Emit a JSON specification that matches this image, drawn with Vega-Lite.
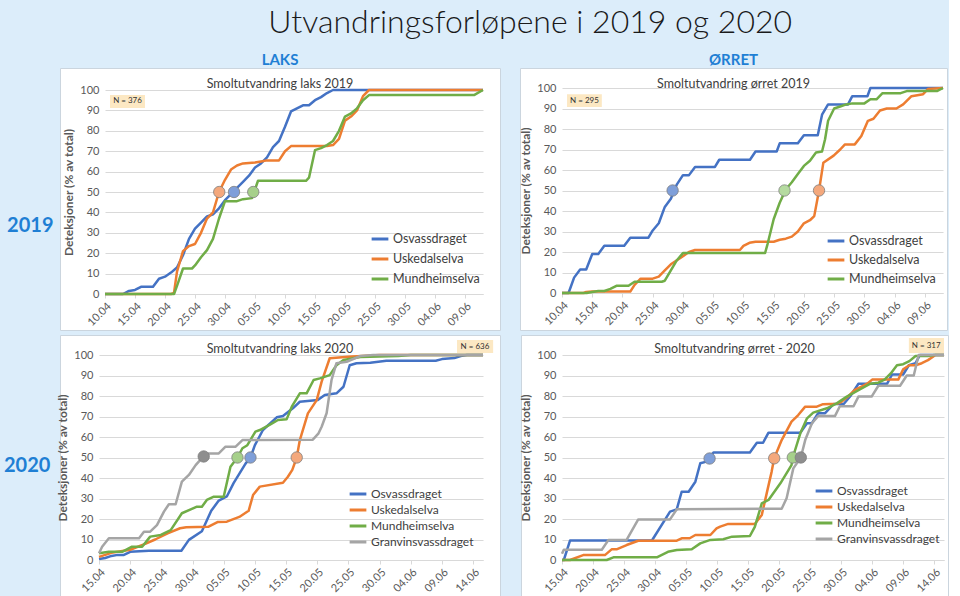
{
"$schema": "https://vega.github.io/schema/vega-lite/v6.json",
"background": "#dcedfa",
"padding": {"left": 3, "top": 7, "right": 0, "bottom": 0},
"config": {
 "font": "Lato",
 "view": {"stroke": null},
 "axis": {"labelColor": "#595959", "labelFontSize": 11, "titleColor": "#595959", "labelFont": "Lato", "titleFont": "Lato", "tickCount": 30},
 "axisX": {"grid": false, "domainColor": "#d9d9d9", "tickColor": "#d9d9d9", "tickSize": 4, "labelAngle": -45, "labelOverlap": false, "labelFlush": false, "labelPadding": 2},
 "axisY": {"grid": true, "gridColor": "#d9d9d9", "domain": false, "ticks": false, "labelPadding": 6, "titleFontSize": 12, "titleFontWeight": "bold", "titlePadding": 4, "labelFlush": false, "labelOverlap": false},
 "legend": {"orient": "none", "symbolType": "stroke", "symbolStrokeWidth": 3, "symbolSize": 280, "labelFontSize": 12.5, "labelColor": "#404040", "labelOffset": 3, "padding": 0, "labelFont": "Lato"}
},
"datasets": {
 "l19": [
  {"river":"Osvassdraget","date":"2019-04-10","pct":0},{"river":"Osvassdraget","date":"2019-04-13","pct":0},{"river":"Osvassdraget","date":"2019-04-14","pct":1.5},{"river":"Osvassdraget","date":"2019-04-15","pct":2},{"river":"Osvassdraget","date":"2019-04-16","pct":3.5},{"river":"Osvassdraget","date":"2019-04-18","pct":3.5},{"river":"Osvassdraget","date":"2019-04-19","pct":7.5},{"river":"Osvassdraget","date":"2019-04-20","pct":8.5},{"river":"Osvassdraget","date":"2019-04-21","pct":10.5},{"river":"Osvassdraget","date":"2019-04-22","pct":13},{"river":"Osvassdraget","date":"2019-04-23","pct":19},{"river":"Osvassdraget","date":"2019-04-24","pct":27},{"river":"Osvassdraget","date":"2019-04-25","pct":32},{"river":"Osvassdraget","date":"2019-04-26","pct":35},{"river":"Osvassdraget","date":"2019-04-27","pct":38},{"river":"Osvassdraget","date":"2019-04-28","pct":39},{"river":"Osvassdraget","date":"2019-04-29","pct":42},{"river":"Osvassdraget","date":"2019-04-30","pct":46},{"river":"Osvassdraget","date":"2019-05-01","pct":49},{"river":"Osvassdraget","date":"2019-05-02","pct":52},{"river":"Osvassdraget","date":"2019-05-03","pct":55},{"river":"Osvassdraget","date":"2019-05-04","pct":58},{"river":"Osvassdraget","date":"2019-05-05","pct":62},{"river":"Osvassdraget","date":"2019-05-06","pct":64},{"river":"Osvassdraget","date":"2019-05-07","pct":67},{"river":"Osvassdraget","date":"2019-05-08","pct":72},{"river":"Osvassdraget","date":"2019-05-09","pct":75},{"river":"Osvassdraget","date":"2019-05-10","pct":82},{"river":"Osvassdraget","date":"2019-05-11","pct":89.5},{"river":"Osvassdraget","date":"2019-05-12","pct":91},{"river":"Osvassdraget","date":"2019-05-13","pct":92.5},{"river":"Osvassdraget","date":"2019-05-14","pct":92.5},{"river":"Osvassdraget","date":"2019-05-15","pct":95},{"river":"Osvassdraget","date":"2019-05-16","pct":96.5},{"river":"Osvassdraget","date":"2019-05-17","pct":98.5},{"river":"Osvassdraget","date":"2019-05-18","pct":100},{"river":"Osvassdraget","date":"2019-06-12","pct":100},
  {"river":"Uskedalselva","date":"2019-04-10","pct":0},{"river":"Uskedalselva","date":"2019-04-21","pct":0},{"river":"Uskedalselva","date":"2019-04-21T12:00Z","pct":0.5},{"river":"Uskedalselva","date":"2019-04-22","pct":11},{"river":"Uskedalselva","date":"2019-04-23","pct":21},{"river":"Uskedalselva","date":"2019-04-24","pct":23.5},{"river":"Uskedalselva","date":"2019-04-25","pct":24.5},{"river":"Uskedalselva","date":"2019-04-26","pct":30},{"river":"Uskedalselva","date":"2019-04-27","pct":37},{"river":"Uskedalselva","date":"2019-04-28","pct":40},{"river":"Uskedalselva","date":"2019-04-29","pct":50},{"river":"Uskedalselva","date":"2019-04-30","pct":56},{"river":"Uskedalselva","date":"2019-05-01","pct":61},{"river":"Uskedalselva","date":"2019-05-02","pct":63},{"river":"Uskedalselva","date":"2019-05-03","pct":64},{"river":"Uskedalselva","date":"2019-05-05","pct":64.5},{"river":"Uskedalselva","date":"2019-05-06","pct":65},{"river":"Uskedalselva","date":"2019-05-07","pct":65.5},{"river":"Uskedalselva","date":"2019-05-09","pct":65.5},{"river":"Uskedalselva","date":"2019-05-10","pct":70},{"river":"Uskedalselva","date":"2019-05-11","pct":72.5},{"river":"Uskedalselva","date":"2019-05-17","pct":72.5},{"river":"Uskedalselva","date":"2019-05-18","pct":73},{"river":"Uskedalselva","date":"2019-05-19","pct":76},{"river":"Uskedalselva","date":"2019-05-20","pct":85},{"river":"Uskedalselva","date":"2019-05-21","pct":87},{"river":"Uskedalselva","date":"2019-05-22","pct":90},{"river":"Uskedalselva","date":"2019-05-23","pct":97},{"river":"Uskedalselva","date":"2019-05-24","pct":100},{"river":"Uskedalselva","date":"2019-06-12","pct":100},
  {"river":"Mundheimselva","date":"2019-04-10","pct":0},{"river":"Mundheimselva","date":"2019-04-21T12:00Z","pct":0},{"river":"Mundheimselva","date":"2019-04-22","pct":4},{"river":"Mundheimselva","date":"2019-04-23","pct":12.5},{"river":"Mundheimselva","date":"2019-04-24T12:00Z","pct":12.5},{"river":"Mundheimselva","date":"2019-04-25","pct":14},{"river":"Mundheimselva","date":"2019-04-26","pct":18},{"river":"Mundheimselva","date":"2019-04-27","pct":21.5},{"river":"Mundheimselva","date":"2019-04-28","pct":27},{"river":"Mundheimselva","date":"2019-04-29","pct":37},{"river":"Mundheimselva","date":"2019-04-30","pct":45.5},{"river":"Mundheimselva","date":"2019-05-02","pct":45.5},{"river":"Mundheimselva","date":"2019-05-03","pct":46.5},{"river":"Mundheimselva","date":"2019-05-04T12:00Z","pct":47},{"river":"Mundheimselva","date":"2019-05-05T12:00Z","pct":55.5},{"river":"Mundheimselva","date":"2019-05-13T12:00Z","pct":55.5},{"river":"Mundheimselva","date":"2019-05-14","pct":57},{"river":"Mundheimselva","date":"2019-05-15","pct":70.5},{"river":"Mundheimselva","date":"2019-05-16","pct":71.5},{"river":"Mundheimselva","date":"2019-05-17","pct":73},{"river":"Mundheimselva","date":"2019-05-18","pct":75},{"river":"Mundheimselva","date":"2019-05-19","pct":80},{"river":"Mundheimselva","date":"2019-05-20","pct":87},{"river":"Mundheimselva","date":"2019-05-21","pct":88.5},{"river":"Mundheimselva","date":"2019-05-22","pct":91},{"river":"Mundheimselva","date":"2019-05-23","pct":95},{"river":"Mundheimselva","date":"2019-05-24","pct":97.5},{"river":"Mundheimselva","date":"2019-06-10T12:00Z","pct":97.5},{"river":"Mundheimselva","date":"2019-06-12","pct":100}
 ],
 "o19": [
  {"river":"Osvassdraget","date":"2019-04-10","pct":0},{"river":"Osvassdraget","date":"2019-04-11T02:00Z","pct":0},{"river":"Osvassdraget","date":"2019-04-12","pct":7.5},{"river":"Osvassdraget","date":"2019-04-13","pct":11.5},{"river":"Osvassdraget","date":"2019-04-14","pct":11.5},{"river":"Osvassdraget","date":"2019-04-15","pct":19},{"river":"Osvassdraget","date":"2019-04-16","pct":19},{"river":"Osvassdraget","date":"2019-04-17","pct":23},{"river":"Osvassdraget","date":"2019-04-20T07:00Z","pct":23},{"river":"Osvassdraget","date":"2019-04-21T07:00Z","pct":27},{"river":"Osvassdraget","date":"2019-04-24T07:00Z","pct":27},{"river":"Osvassdraget","date":"2019-04-25","pct":30.5},{"river":"Osvassdraget","date":"2019-04-26","pct":34},{"river":"Osvassdraget","date":"2019-04-27","pct":42},{"river":"Osvassdraget","date":"2019-04-28","pct":46},{"river":"Osvassdraget","date":"2019-04-29","pct":53},{"river":"Osvassdraget","date":"2019-04-30","pct":57.5},{"river":"Osvassdraget","date":"2019-05-01","pct":57.5},{"river":"Osvassdraget","date":"2019-05-02","pct":61.5},{"river":"Osvassdraget","date":"2019-05-05T07:00Z","pct":61.5},{"river":"Osvassdraget","date":"2019-05-06","pct":65},{"river":"Osvassdraget","date":"2019-05-11T02:00Z","pct":65},{"river":"Osvassdraget","date":"2019-05-12","pct":69},{"river":"Osvassdraget","date":"2019-05-15T12:00Z","pct":69},{"river":"Osvassdraget","date":"2019-05-16","pct":73},{"river":"Osvassdraget","date":"2019-05-19","pct":73},{"river":"Osvassdraget","date":"2019-05-20","pct":77},{"river":"Osvassdraget","date":"2019-05-22T07:00Z","pct":77},{"river":"Osvassdraget","date":"2019-05-23","pct":87},{"river":"Osvassdraget","date":"2019-05-24","pct":92},{"river":"Osvassdraget","date":"2019-05-27T07:00Z","pct":92},{"river":"Osvassdraget","date":"2019-05-28","pct":96},{"river":"Osvassdraget","date":"2019-05-30T12:00Z","pct":96},{"river":"Osvassdraget","date":"2019-05-31","pct":100},{"river":"Osvassdraget","date":"2019-06-12","pct":100},
  {"river":"Uskedalselva","date":"2019-04-10","pct":0},{"river":"Uskedalselva","date":"2019-04-13T14:00Z","pct":0},{"river":"Uskedalselva","date":"2019-04-14","pct":0.5},{"river":"Uskedalselva","date":"2019-04-15","pct":0.7},{"river":"Uskedalselva","date":"2019-04-21T07:00Z","pct":0.7},{"river":"Uskedalselva","date":"2019-04-22","pct":4},{"river":"Uskedalselva","date":"2019-04-23","pct":7},{"river":"Uskedalselva","date":"2019-04-25","pct":7},{"river":"Uskedalselva","date":"2019-04-26","pct":8},{"river":"Uskedalselva","date":"2019-04-27","pct":11},{"river":"Uskedalselva","date":"2019-04-28","pct":14},{"river":"Uskedalselva","date":"2019-04-29","pct":16},{"river":"Uskedalselva","date":"2019-04-30","pct":18},{"river":"Uskedalselva","date":"2019-05-01","pct":20},{"river":"Uskedalselva","date":"2019-05-02","pct":21},{"river":"Uskedalselva","date":"2019-05-09T10:00Z","pct":21},{"river":"Uskedalselva","date":"2019-05-10","pct":23},{"river":"Uskedalselva","date":"2019-05-11","pct":24.5},{"river":"Uskedalselva","date":"2019-05-12","pct":25},{"river":"Uskedalselva","date":"2019-05-15","pct":25},{"river":"Uskedalselva","date":"2019-05-16","pct":26},{"river":"Uskedalselva","date":"2019-05-17","pct":26.5},{"river":"Uskedalselva","date":"2019-05-18","pct":27.5},{"river":"Uskedalselva","date":"2019-05-19","pct":30},{"river":"Uskedalselva","date":"2019-05-20","pct":34},{"river":"Uskedalselva","date":"2019-05-21","pct":35.5},{"river":"Uskedalselva","date":"2019-05-21T17:00Z","pct":37.5},{"river":"Uskedalselva","date":"2019-05-22T12:00Z","pct":50},{"river":"Uskedalselva","date":"2019-05-23T05:00Z","pct":63.5},{"river":"Uskedalselva","date":"2019-05-24T22:00Z","pct":67},{"river":"Uskedalselva","date":"2019-05-26","pct":70},{"river":"Uskedalselva","date":"2019-05-26T19:00Z","pct":72.5},{"river":"Uskedalselva","date":"2019-05-28T10:00Z","pct":72.5},{"river":"Uskedalselva","date":"2019-05-29T12:00Z","pct":76.6},{"river":"Uskedalselva","date":"2019-05-30T14:00Z","pct":84},{"river":"Uskedalselva","date":"2019-05-31T12:00Z","pct":85},{"river":"Uskedalselva","date":"2019-06-01T14:00Z","pct":89},{"river":"Uskedalselva","date":"2019-06-02T17:00Z","pct":90},{"river":"Uskedalselva","date":"2019-06-04T07:00Z","pct":90},{"river":"Uskedalselva","date":"2019-06-05T10:00Z","pct":92},{"river":"Uskedalselva","date":"2019-06-06T19:00Z","pct":96},{"river":"Uskedalselva","date":"2019-06-08T17:00Z","pct":97},{"river":"Uskedalselva","date":"2019-06-09T12:00Z","pct":99.5},{"river":"Uskedalselva","date":"2019-06-12","pct":100},
  {"river":"Mundheimselva","date":"2019-04-10","pct":0},{"river":"Mundheimselva","date":"2019-04-14T02:00Z","pct":0},{"river":"Mundheimselva","date":"2019-04-15","pct":0.5},{"river":"Mundheimselva","date":"2019-04-16","pct":1},{"river":"Mundheimselva","date":"2019-04-17","pct":1},{"river":"Mundheimselva","date":"2019-04-18","pct":2},{"river":"Mundheimselva","date":"2019-04-19","pct":3.5},{"river":"Mundheimselva","date":"2019-04-21","pct":3.5},{"river":"Mundheimselva","date":"2019-04-22","pct":5.5},{"river":"Mundheimselva","date":"2019-04-26T12:00Z","pct":5.5},{"river":"Mundheimselva","date":"2019-04-27","pct":6},{"river":"Mundheimselva","date":"2019-04-28","pct":11},{"river":"Mundheimselva","date":"2019-04-29","pct":16},{"river":"Mundheimselva","date":"2019-04-30","pct":19.5},{"river":"Mundheimselva","date":"2019-05-13T14:00Z","pct":19.5},{"river":"Mundheimselva","date":"2019-05-14","pct":24},{"river":"Mundheimselva","date":"2019-05-15","pct":36},{"river":"Mundheimselva","date":"2019-05-16","pct":44},{"river":"Mundheimselva","date":"2019-05-17","pct":50.5},{"river":"Mundheimselva","date":"2019-05-18","pct":54},{"river":"Mundheimselva","date":"2019-05-19","pct":58},{"river":"Mundheimselva","date":"2019-05-20","pct":62},{"river":"Mundheimselva","date":"2019-05-21","pct":64.5},{"river":"Mundheimselva","date":"2019-05-22","pct":68.5},{"river":"Mundheimselva","date":"2019-05-23","pct":69},{"river":"Mundheimselva","date":"2019-05-23T12:00Z","pct":75},{"river":"Mundheimselva","date":"2019-05-24","pct":84},{"river":"Mundheimselva","date":"2019-05-25","pct":90},{"river":"Mundheimselva","date":"2019-05-26","pct":91},{"river":"Mundheimselva","date":"2019-05-27","pct":92},{"river":"Mundheimselva","date":"2019-05-28","pct":92.5},{"river":"Mundheimselva","date":"2019-05-30","pct":92.5},{"river":"Mundheimselva","date":"2019-05-31","pct":94.5},{"river":"Mundheimselva","date":"2019-06-01","pct":94.5},{"river":"Mundheimselva","date":"2019-06-02","pct":97.5},{"river":"Mundheimselva","date":"2019-06-05","pct":97.5},{"river":"Mundheimselva","date":"2019-06-06","pct":98.5},{"river":"Mundheimselva","date":"2019-06-11","pct":98.5},{"river":"Mundheimselva","date":"2019-06-12","pct":100}
 ],
 "l20": [
  {"river":"Osvassdraget","date":"2020-04-15","pct":0.5},{"river":"Osvassdraget","date":"2020-04-16","pct":1},{"river":"Osvassdraget","date":"2020-04-17","pct":2},{"river":"Osvassdraget","date":"2020-04-18","pct":2.5},{"river":"Osvassdraget","date":"2020-04-19","pct":2.5},{"river":"Osvassdraget","date":"2020-04-20","pct":4},{"river":"Osvassdraget","date":"2020-04-23","pct":4.5},{"river":"Osvassdraget","date":"2020-04-28T05:00Z","pct":4.5},{"river":"Osvassdraget","date":"2020-04-29T10:00Z","pct":9.8},{"river":"Osvassdraget","date":"2020-05-01T12:00Z","pct":14},{"river":"Osvassdraget","date":"2020-05-03","pct":24},{"river":"Osvassdraget","date":"2020-05-04T05:00Z","pct":29},{"river":"Osvassdraget","date":"2020-05-05T12:00Z","pct":31},{"river":"Osvassdraget","date":"2020-05-06T14:00Z","pct":37.5},{"river":"Osvassdraget","date":"2020-05-08T12:00Z","pct":47},{"river":"Osvassdraget","date":"2020-05-09T07:00Z","pct":50},{"river":"Osvassdraget","date":"2020-05-10","pct":56},{"river":"Osvassdraget","date":"2020-05-11T07:00Z","pct":63.4},{"river":"Osvassdraget","date":"2020-05-13T12:00Z","pct":69.6},{"river":"Osvassdraget","date":"2020-05-14T12:00Z","pct":70.2},{"river":"Osvassdraget","date":"2020-05-16T02:00Z","pct":74},{"river":"Osvassdraget","date":"2020-05-17T05:00Z","pct":77.2},{"river":"Osvassdraget","date":"2020-05-20T02:00Z","pct":78},{"river":"Osvassdraget","date":"2020-05-21T05:00Z","pct":80.5},{"river":"Osvassdraget","date":"2020-05-23T02:00Z","pct":81.3},{"river":"Osvassdraget","date":"2020-05-24T05:00Z","pct":84.5},{"river":"Osvassdraget","date":"2020-05-25T05:00Z","pct":95},{"river":"Osvassdraget","date":"2020-05-26T07:00Z","pct":96},{"river":"Osvassdraget","date":"2020-05-28T12:00Z","pct":96.2},{"river":"Osvassdraget","date":"2020-05-31T02:00Z","pct":97.2},{"river":"Osvassdraget","date":"2020-06-08","pct":97.2},{"river":"Osvassdraget","date":"2020-06-09","pct":98},{"river":"Osvassdraget","date":"2020-06-11","pct":98.5},{"river":"Osvassdraget","date":"2020-06-12","pct":99.5},{"river":"Osvassdraget","date":"2020-06-13","pct":100},{"river":"Osvassdraget","date":"2020-06-15T14:00Z","pct":100},
  {"river":"Uskedalselva","date":"2020-04-15","pct":1.5},{"river":"Uskedalselva","date":"2020-04-17","pct":3.5},{"river":"Uskedalselva","date":"2020-04-20","pct":5},{"river":"Uskedalselva","date":"2020-04-22T12:00Z","pct":8},{"river":"Uskedalselva","date":"2020-04-24","pct":10},{"river":"Uskedalselva","date":"2020-04-26","pct":13},{"river":"Uskedalselva","date":"2020-04-28","pct":15.5},{"river":"Uskedalselva","date":"2020-04-29","pct":16},{"river":"Uskedalselva","date":"2020-05-02T12:00Z","pct":16.2},{"river":"Uskedalselva","date":"2020-05-04","pct":18.5},{"river":"Uskedalselva","date":"2020-05-05T12:00Z","pct":18.7},{"river":"Uskedalselva","date":"2020-05-07T12:00Z","pct":21},{"river":"Uskedalselva","date":"2020-05-09","pct":24},{"river":"Uskedalselva","date":"2020-05-09T17:00Z","pct":31.7},{"river":"Uskedalselva","date":"2020-05-10T19:00Z","pct":35.8},{"river":"Uskedalselva","date":"2020-05-14T12:00Z","pct":37.7},{"river":"Uskedalselva","date":"2020-05-15T07:00Z","pct":40.6},{"river":"Uskedalselva","date":"2020-05-16","pct":44},{"river":"Uskedalselva","date":"2020-05-16T17:00Z","pct":50},{"river":"Uskedalselva","date":"2020-05-17T05:00Z","pct":58.5},{"river":"Uskedalselva","date":"2020-05-18T12:00Z","pct":71.5},{"river":"Uskedalselva","date":"2020-05-19T22:00Z","pct":78},{"river":"Uskedalselva","date":"2020-05-20T17:00Z","pct":87},{"river":"Uskedalselva","date":"2020-05-22","pct":98.4},{"river":"Uskedalselva","date":"2020-05-25","pct":99.2},{"river":"Uskedalselva","date":"2020-05-30","pct":100},{"river":"Uskedalselva","date":"2020-06-15T14:00Z","pct":100},
  {"river":"Mundheimselva","date":"2020-04-15","pct":3.3},{"river":"Mundheimselva","date":"2020-04-16T14:00Z","pct":4},{"river":"Mundheimselva","date":"2020-04-18T17:00Z","pct":4},{"river":"Mundheimselva","date":"2020-04-20T07:00Z","pct":6.5},{"river":"Mundheimselva","date":"2020-04-21T22:00Z","pct":6.5},{"river":"Mundheimselva","date":"2020-04-23T05:00Z","pct":11.4},{"river":"Mundheimselva","date":"2020-04-24T22:00Z","pct":12.2},{"river":"Mundheimselva","date":"2020-04-26T12:00Z","pct":14.6},{"river":"Mundheimselva","date":"2020-04-28T07:00Z","pct":22.8},{"river":"Mundheimselva","date":"2020-04-29T17:00Z","pct":24.7},{"river":"Mundheimselva","date":"2020-04-30T17:00Z","pct":26},{"river":"Mundheimselva","date":"2020-05-01T12:00Z","pct":26},{"river":"Mundheimselva","date":"2020-05-02T07:00Z","pct":29.3},{"river":"Mundheimselva","date":"2020-05-03T10:00Z","pct":30.9},{"river":"Mundheimselva","date":"2020-05-05","pct":30.9},{"river":"Mundheimselva","date":"2020-05-06T02:00Z","pct":45.5},{"river":"Mundheimselva","date":"2020-05-07T05:00Z","pct":50},{"river":"Mundheimselva","date":"2020-05-08","pct":54.5},{"river":"Mundheimselva","date":"2020-05-08T19:00Z","pct":56},{"river":"Mundheimselva","date":"2020-05-10T02:00Z","pct":62.6},{"river":"Mundheimselva","date":"2020-05-10T19:00Z","pct":63.4},{"river":"Mundheimselva","date":"2020-05-12T10:00Z","pct":66},{"river":"Mundheimselva","date":"2020-05-13T17:00Z","pct":68.3},{"river":"Mundheimselva","date":"2020-05-15T02:00Z","pct":68.6},{"river":"Mundheimselva","date":"2020-05-15T22:00Z","pct":74.8},{"river":"Mundheimselva","date":"2020-05-17T05:00Z","pct":81.3},{"river":"Mundheimselva","date":"2020-05-18T07:00Z","pct":81.3},{"river":"Mundheimselva","date":"2020-05-19T10:00Z","pct":87.8},{"river":"Mundheimselva","date":"2020-05-20T10:00Z","pct":88.6},{"river":"Mundheimselva","date":"2020-05-22","pct":90.2},{"river":"Mundheimselva","date":"2020-05-23T02:00Z","pct":95},{"river":"Mundheimselva","date":"2020-05-24T05:00Z","pct":97.6},{"river":"Mundheimselva","date":"2020-05-26T22:00Z","pct":99},{"river":"Mundheimselva","date":"2020-06-02","pct":99.5},{"river":"Mundheimselva","date":"2020-06-04","pct":100},{"river":"Mundheimselva","date":"2020-06-15T14:00Z","pct":100},
  {"river":"Granvinsvassdraget","date":"2020-04-15","pct":3.3},{"river":"Granvinsvassdraget","date":"2020-04-15T12:00Z","pct":6.5},{"river":"Granvinsvassdraget","date":"2020-04-16T14:00Z","pct":10.6},{"river":"Granvinsvassdraget","date":"2020-04-21T10:00Z","pct":10.6},{"river":"Granvinsvassdraget","date":"2020-04-22T05:00Z","pct":13.8},{"river":"Granvinsvassdraget","date":"2020-04-23T05:00Z","pct":13.8},{"river":"Granvinsvassdraget","date":"2020-04-24T07:00Z","pct":17},{"river":"Granvinsvassdraget","date":"2020-04-25T10:00Z","pct":23.6},{"river":"Granvinsvassdraget","date":"2020-04-26T05:00Z","pct":27.2},{"river":"Granvinsvassdraget","date":"2020-04-27T07:00Z","pct":27.2},{"river":"Granvinsvassdraget","date":"2020-04-28T07:00Z","pct":38.2},{"river":"Granvinsvassdraget","date":"2020-04-29T10:00Z","pct":41.5},{"river":"Granvinsvassdraget","date":"2020-04-30T12:00Z","pct":46.3},{"river":"Granvinsvassdraget","date":"2020-05-01T19:00Z","pct":50.7},{"river":"Granvinsvassdraget","date":"2020-05-02T14:00Z","pct":52},{"river":"Granvinsvassdraget","date":"2020-05-04T05:00Z","pct":52},{"river":"Granvinsvassdraget","date":"2020-05-05T07:00Z","pct":55.3},{"river":"Granvinsvassdraget","date":"2020-05-06T22:00Z","pct":55.3},{"river":"Granvinsvassdraget","date":"2020-05-08","pct":58.5},{"river":"Granvinsvassdraget","date":"2020-05-19T07:00Z","pct":58.7},{"river":"Granvinsvassdraget","date":"2020-05-20T05:00Z","pct":61.8},{"river":"Granvinsvassdraget","date":"2020-05-20T17:00Z","pct":65},{"river":"Granvinsvassdraget","date":"2020-05-21T12:00Z","pct":71.6},{"river":"Granvinsvassdraget","date":"2020-05-22T07:00Z","pct":87.8},{"river":"Granvinsvassdraget","date":"2020-05-23T02:00Z","pct":96},{"river":"Granvinsvassdraget","date":"2020-05-24T17:00Z","pct":96.7},{"river":"Granvinsvassdraget","date":"2020-05-26T22:00Z","pct":99.5},{"river":"Granvinsvassdraget","date":"2020-05-29","pct":100},{"river":"Granvinsvassdraget","date":"2020-06-15T14:00Z","pct":100}
 ],
 "o20": [
  {"river":"Osvassdraget","date":"2020-04-15","pct":0},{"river":"Osvassdraget","date":"2020-04-15T07:00Z","pct":0},{"river":"Osvassdraget","date":"2020-04-16T07:00Z","pct":9.5},{"river":"Osvassdraget","date":"2020-04-29T12:00Z","pct":9.5},{"river":"Osvassdraget","date":"2020-05-02T10:00Z","pct":23.6},{"river":"Osvassdraget","date":"2020-05-03T12:00Z","pct":24.7},{"river":"Osvassdraget","date":"2020-05-04T07:00Z","pct":33.3},{"river":"Osvassdraget","date":"2020-05-05T10:00Z","pct":33.3},{"river":"Osvassdraget","date":"2020-05-06T12:00Z","pct":38.2},{"river":"Osvassdraget","date":"2020-05-07T07:00Z","pct":47.2},{"river":"Osvassdraget","date":"2020-05-08T07:00Z","pct":48},{"river":"Osvassdraget","date":"2020-05-09T10:00Z","pct":52.4},{"river":"Osvassdraget","date":"2020-05-15T07:00Z","pct":52.4},{"river":"Osvassdraget","date":"2020-05-16T10:00Z","pct":57.2},{"river":"Osvassdraget","date":"2020-05-17T10:00Z","pct":57.2},{"river":"Osvassdraget","date":"2020-05-18T07:00Z","pct":62.1},{"river":"Osvassdraget","date":"2020-05-23T10:00Z","pct":62.1},{"river":"Osvassdraget","date":"2020-05-24T12:00Z","pct":66.7},{"river":"Osvassdraget","date":"2020-05-25T07:00Z","pct":66.7},{"river":"Osvassdraget","date":"2020-05-26T07:00Z","pct":71.6},{"river":"Osvassdraget","date":"2020-05-27T10:00Z","pct":71.6},{"river":"Osvassdraget","date":"2020-05-28T19:00Z","pct":76.1},{"river":"Osvassdraget","date":"2020-05-30T10:00Z","pct":76.1},{"river":"Osvassdraget","date":"2020-05-31T12:00Z","pct":80},{"river":"Osvassdraget","date":"2020-06-01T19:00Z","pct":86},{"river":"Osvassdraget","date":"2020-06-06T10:00Z","pct":86},{"river":"Osvassdraget","date":"2020-06-07T05:00Z","pct":90.5},{"river":"Osvassdraget","date":"2020-06-09","pct":90.5},{"river":"Osvassdraget","date":"2020-06-09T22:00Z","pct":95},{"river":"Osvassdraget","date":"2020-06-11","pct":96},{"river":"Osvassdraget","date":"2020-06-11T17:00Z","pct":100},{"river":"Osvassdraget","date":"2020-06-15T14:00Z","pct":100},
  {"river":"Uskedalselva","date":"2020-04-15","pct":0},{"river":"Uskedalselva","date":"2020-04-16T07:00Z","pct":0},{"river":"Uskedalselva","date":"2020-04-18T10:00Z","pct":2.4},{"river":"Uskedalselva","date":"2020-04-21T22:00Z","pct":2.4},{"river":"Uskedalselva","date":"2020-04-23","pct":5.2},{"river":"Uskedalselva","date":"2020-04-23T19:00Z","pct":5.2},{"river":"Uskedalselva","date":"2020-04-25T10:00Z","pct":7.3},{"river":"Uskedalselva","date":"2020-04-27T07:00Z","pct":9.4},{"river":"Uskedalselva","date":"2020-05-03T12:00Z","pct":9.4},{"river":"Uskedalselva","date":"2020-05-04T07:00Z","pct":10.6},{"river":"Uskedalselva","date":"2020-05-05T14:00Z","pct":10.6},{"river":"Uskedalselva","date":"2020-05-06T12:00Z","pct":12.2},{"river":"Uskedalselva","date":"2020-05-08T22:00Z","pct":12.2},{"river":"Uskedalselva","date":"2020-05-09T22:00Z","pct":15.4},{"river":"Uskedalselva","date":"2020-05-10T12:00Z","pct":16.3},{"river":"Uskedalselva","date":"2020-05-11T19:00Z","pct":17.6},{"river":"Uskedalselva","date":"2020-05-16T02:00Z","pct":17.6},{"river":"Uskedalselva","date":"2020-05-17T05:00Z","pct":22},{"river":"Uskedalselva","date":"2020-05-18","pct":32.5},{"river":"Uskedalselva","date":"2020-05-18T19:00Z","pct":43},{"river":"Uskedalselva","date":"2020-05-19T05:00Z","pct":49.6},{"river":"Uskedalselva","date":"2020-05-20T10:00Z","pct":58.5},{"river":"Uskedalselva","date":"2020-05-22","pct":67.5},{"river":"Uskedalselva","date":"2020-05-23T02:00Z","pct":70.7},{"river":"Uskedalselva","date":"2020-05-24T05:00Z","pct":74.8},{"river":"Uskedalselva","date":"2020-05-26T02:00Z","pct":74.8},{"river":"Uskedalselva","date":"2020-05-27T02:00Z","pct":76},{"river":"Uskedalselva","date":"2020-05-29T07:00Z","pct":76.2},{"river":"Uskedalselva","date":"2020-05-30","pct":77},{"river":"Uskedalselva","date":"2020-05-31T05:00Z","pct":80},{"river":"Uskedalselva","date":"2020-06-01T05:00Z","pct":83},{"river":"Uskedalselva","date":"2020-06-02T05:00Z","pct":84.5},{"river":"Uskedalselva","date":"2020-06-03T05:00Z","pct":86},{"river":"Uskedalselva","date":"2020-06-04","pct":88},{"river":"Uskedalselva","date":"2020-06-08T05:00Z","pct":88},{"river":"Uskedalselva","date":"2020-06-09","pct":93},{"river":"Uskedalselva","date":"2020-06-10","pct":95},{"river":"Uskedalselva","date":"2020-06-11","pct":95},{"river":"Uskedalselva","date":"2020-06-12","pct":96},{"river":"Uskedalselva","date":"2020-06-13","pct":97.5},{"river":"Uskedalselva","date":"2020-06-14T05:00Z","pct":100},{"river":"Uskedalselva","date":"2020-06-15T14:00Z","pct":100},
  {"river":"Mundheimselva","date":"2020-04-15","pct":0},{"river":"Mundheimselva","date":"2020-04-22T05:00Z","pct":0},{"river":"Mundheimselva","date":"2020-04-23T07:00Z","pct":1.3},{"river":"Mundheimselva","date":"2020-04-30T07:00Z","pct":1.3},{"river":"Mundheimselva","date":"2020-05-02T02:00Z","pct":4},{"river":"Mundheimselva","date":"2020-05-03T12:00Z","pct":4.9},{"river":"Mundheimselva","date":"2020-05-05T22:00Z","pct":5.2},{"river":"Mundheimselva","date":"2020-05-07T07:00Z","pct":8.1},{"river":"Mundheimselva","date":"2020-05-08T22:00Z","pct":9.8},{"river":"Mundheimselva","date":"2020-05-11","pct":10.1},{"river":"Mundheimselva","date":"2020-05-12T10:00Z","pct":11.4},{"river":"Mundheimselva","date":"2020-05-15T07:00Z","pct":11.7},{"river":"Mundheimselva","date":"2020-05-16T02:00Z","pct":16.2},{"river":"Mundheimselva","date":"2020-05-17T05:00Z","pct":27.6},{"river":"Mundheimselva","date":"2020-05-18T07:00Z","pct":29.3},{"river":"Mundheimselva","date":"2020-05-20T05:00Z","pct":37.4},{"river":"Mundheimselva","date":"2020-05-22","pct":46.3},{"river":"Mundheimselva","date":"2020-05-22T05:00Z","pct":50},{"river":"Mundheimselva","date":"2020-05-23T10:00Z","pct":61.8},{"river":"Mundheimselva","date":"2020-05-24T12:00Z","pct":69.1},{"river":"Mundheimselva","date":"2020-05-25T12:00Z","pct":71.9},{"river":"Mundheimselva","date":"2020-05-27T17:00Z","pct":74},{"river":"Mundheimselva","date":"2020-05-29T07:00Z","pct":76.4},{"river":"Mundheimselva","date":"2020-05-30T22:00Z","pct":79.7},{"river":"Mundheimselva","date":"2020-06-02T02:00Z","pct":83.3},{"river":"Mundheimselva","date":"2020-06-03T17:00Z","pct":86},{"river":"Mundheimselva","date":"2020-06-05","pct":86.5},{"river":"Mundheimselva","date":"2020-06-06","pct":88},{"river":"Mundheimselva","date":"2020-06-07","pct":91},{"river":"Mundheimselva","date":"2020-06-08","pct":95},{"river":"Mundheimselva","date":"2020-06-09","pct":95.5},{"river":"Mundheimselva","date":"2020-06-10","pct":97},{"river":"Mundheimselva","date":"2020-06-11","pct":99.5},{"river":"Mundheimselva","date":"2020-06-13","pct":99.5},{"river":"Mundheimselva","date":"2020-06-14","pct":100},{"river":"Mundheimselva","date":"2020-06-15T14:00Z","pct":100},
  {"river":"Granvinsvassdraget","date":"2020-04-15","pct":3},{"river":"Granvinsvassdraget","date":"2020-04-15T07:00Z","pct":5},{"river":"Granvinsvassdraget","date":"2020-04-21T10:00Z","pct":5},{"river":"Granvinsvassdraget","date":"2020-04-22T12:00Z","pct":9.8},{"river":"Granvinsvassdraget","date":"2020-04-25T10:00Z","pct":9.8},{"river":"Granvinsvassdraget","date":"2020-04-27T07:00Z","pct":19.8},{"river":"Granvinsvassdraget","date":"2020-05-02T10:00Z","pct":19.8},{"river":"Granvinsvassdraget","date":"2020-05-03T12:00Z","pct":24.7},{"river":"Granvinsvassdraget","date":"2020-05-20T10:00Z","pct":25},{"river":"Granvinsvassdraget","date":"2020-05-21T05:00Z","pct":30.1},{"river":"Granvinsvassdraget","date":"2020-05-22T07:00Z","pct":44.7},{"river":"Granvinsvassdraget","date":"2020-05-23T12:00Z","pct":50},{"river":"Granvinsvassdraget","date":"2020-05-24T05:00Z","pct":58.5},{"river":"Granvinsvassdraget","date":"2020-05-25T07:00Z","pct":66.7},{"river":"Granvinsvassdraget","date":"2020-05-26T07:00Z","pct":70.2},{"river":"Granvinsvassdraget","date":"2020-05-29","pct":70.2},{"river":"Granvinsvassdraget","date":"2020-05-29T19:00Z","pct":75},{"river":"Granvinsvassdraget","date":"2020-06-01","pct":75},{"river":"Granvinsvassdraget","date":"2020-06-01T19:00Z","pct":79.7},{"river":"Granvinsvassdraget","date":"2020-06-03T22:00Z","pct":79.7},{"river":"Granvinsvassdraget","date":"2020-06-05","pct":85},{"river":"Granvinsvassdraget","date":"2020-06-08T12:00Z","pct":85},{"river":"Granvinsvassdraget","date":"2020-06-09T14:00Z","pct":90},{"river":"Granvinsvassdraget","date":"2020-06-10T17:00Z","pct":90},{"river":"Granvinsvassdraget","date":"2020-06-11T12:00Z","pct":100},{"river":"Granvinsvassdraget","date":"2020-06-15T14:00Z","pct":100}
 ]
},
"title": {"text": "Utvandringsforløpene i 2019 og 2020", "fontSize": 32, "fontWeight": 300, "color": "#1a1a1a", "anchor": "middle", "offset": 12, "dx": 54, "font": "Lato"},
"spacing": 3,
"resolve": {"scale": {"color": "independent", "fill": "independent"}, "legend": {"color": "independent", "fill": "independent"}},
"vconcat": [
 {
  "title": {"text": "2019", "orient": "left", "angle": 0, "align": "left", "baseline": "middle", "offset": 6, "fontSize": 20, "fontWeight": "bold", "color": "#1f7fd4", "anchor": "middle", "dy": 35, "font": "Lato"},
  "spacing": 18,
  "resolve": {"scale": {"color": "independent", "fill": "independent"}, "legend": {"color": "independent", "fill": "independent"}},
  "hconcat": [
   {
    "width": 440, "height": 262,
    "view": {"fill": "white", "stroke": "#cbd5de"},
    "title": {"text": "LAKS", "subtitle": "Smoltutvandring laks 2019", "fontSize": 15, "fontWeight": "bold", "color": "#1f7fd4", "subtitleFontSize": 12.5, "subtitleColor": "#404040", "subtitleFont": "Lato", "subtitlePadding": 10, "offset": -22, "anchor": "middle", "frame": "group", "font": "Lato"},
    "layer": [
     {"data": {"name": "l19"}, "mark": {"type": "line", "strokeWidth": 2.5, "strokeJoin": "round"},
      "encoding": {
       "x": {"field": "date", "type": "temporal", "scale": {"type": "utc", "domain": [{"year": 2019, "month": 4, "date": 10, "utc": true}, {"year": 2019, "month": 6, "date": 12, "utc": true}], "range": [45, 423], "nice": false},
        "axis": {"title": null, "format": "%d.%m", "offset": -36, "labelOverlap": false, "tickCount": 30, "values": [{"year":2019,"month":4,"date":10,"utc":true},{"year":2019,"month":4,"date":15,"utc":true},{"year":2019,"month":4,"date":20,"utc":true},{"year":2019,"month":4,"date":25,"utc":true},{"year":2019,"month":4,"date":30,"utc":true},{"year":2019,"month":5,"date":5,"utc":true},{"year":2019,"month":5,"date":10,"utc":true},{"year":2019,"month":5,"date":15,"utc":true},{"year":2019,"month":5,"date":20,"utc":true},{"year":2019,"month":5,"date":25,"utc":true},{"year":2019,"month":5,"date":30,"utc":true},{"year":2019,"month":6,"date":4,"utc":true},{"year":2019,"month":6,"date":9,"utc":true}]}},
       "y": {"field": "pct", "type": "quantitative", "scale": {"domain": [0, 100], "range": [226, 22], "nice": false}, "axis": {"title": "Deteksjoner (% av total)", "offset": -45, "tickCount": 30, "values": [0,10,20,30,40,50,60,70,80,90,100]}},
       "color": {"field": "river", "type": "nominal", "scale": {"domain": ["Osvassdraget", "Uskedalselva", "Mundheimselva"], "range": ["#4472C4", "#ED7D31", "#70AD47"]}, "legend": {"title": null, "orient": "none", "legendX": 310, "legendY": 161, "rowPadding": 3}}
      }},
     {"data": {"values": [{"river": "Uskedalselva", "date": "2019-04-29T01:00Z", "pct": 50}, {"river": "Osvassdraget", "date": "2019-05-01T12:00Z", "pct": 50}, {"river": "Mundheimselva", "date": "2019-05-04T17:00Z", "pct": 50}]},
      "mark": {"type": "circle", "size": 130, "stroke": "#7f7f7f", "strokeWidth": 0.8, "opacity": 1},
      "encoding": {"x": {"field": "date", "type": "temporal"}, "y": {"field": "pct", "type": "quantitative"},
       "fill": {"field": "river", "type": "nominal", "scale": {"domain": ["Osvassdraget", "Uskedalselva", "Mundheimselva"], "range": ["#7f9fd9", "#f4a87c", "#a6d08a"]}, "legend": null}}},
     {"data": {"values": [{"label": "N = 376"}]}, "mark": {"type": "rect", "fill": "#fce8c3"},
      "encoding": {"x": {"datum": {"year": 2019, "month": 4, "date": 10, "hours": 20, "utc": true}, "type": "temporal"}, "x2": {"datum": {"year": 2019, "month": 4, "date": 16, "hours": 16, "utc": true}}, "y": {"datum": 91.2, "type": "quantitative"}, "y2": {"datum": 97.5}}},
     {"data": {"values": [{"label": "N = 376"}]}, "mark": {"type": "text", "fontSize": 8, "color": "#333333"},
      "encoding": {"x": {"datum": {"year": 2019, "month": 4, "date": 13, "hours": 18, "utc": true}, "type": "temporal"}, "y": {"datum": 94.4, "type": "quantitative"}, "text": {"field": "label"}}}
    ]
   },
   {
    "width": 427, "height": 262,
    "view": {"fill": "white", "stroke": "#cbd5de"},
    "title": {"text": "ØRRET", "subtitle": "Smoltutvandring ørret 2019", "fontSize": 15, "fontWeight": "bold", "color": "#1f7fd4", "subtitleFontSize": 12.5, "subtitleColor": "#404040", "subtitleFont": "Lato", "subtitlePadding": 10, "offset": -22, "anchor": "middle", "frame": "group", "font": "Lato"},
    "layer": [
     {"data": {"name": "o19"}, "mark": {"type": "line", "strokeWidth": 2.5, "strokeJoin": "round"},
      "encoding": {
       "x": {"field": "date", "type": "temporal", "scale": {"type": "utc", "domain": [{"year": 2019, "month": 4, "date": 10, "utc": true}, {"year": 2019, "month": 6, "date": 12, "utc": true}], "range": [42, 423], "nice": false},
        "axis": {"title": null, "format": "%d.%m", "offset": -37, "labelOverlap": false, "tickCount": 30, "values": [{"year":2019,"month":4,"date":10,"utc":true},{"year":2019,"month":4,"date":15,"utc":true},{"year":2019,"month":4,"date":20,"utc":true},{"year":2019,"month":4,"date":25,"utc":true},{"year":2019,"month":4,"date":30,"utc":true},{"year":2019,"month":5,"date":5,"utc":true},{"year":2019,"month":5,"date":10,"utc":true},{"year":2019,"month":5,"date":15,"utc":true},{"year":2019,"month":5,"date":20,"utc":true},{"year":2019,"month":5,"date":25,"utc":true},{"year":2019,"month":5,"date":30,"utc":true},{"year":2019,"month":6,"date":4,"utc":true},{"year":2019,"month":6,"date":9,"utc":true}]}},
       "y": {"field": "pct", "type": "quantitative", "scale": {"domain": [0, 100], "range": [225, 20], "nice": false}, "axis": {"title": "Deteksjoner  (% av total)", "offset": -42, "tickCount": 30, "values": [0,10,20,30,40,50,60,70,80,90,100]}},
       "color": {"field": "river", "type": "nominal", "scale": {"domain": ["Osvassdraget", "Uskedalselva", "Mundheimselva"], "range": ["#4472C4", "#ED7D31", "#70AD47"]}, "legend": {"title": null, "orient": "none", "legendX": 306, "legendY": 163, "rowPadding": 2}}
      }},
     {"data": {"values": [{"river": "Osvassdraget", "date": "2019-04-28T07:00Z", "pct": 50}, {"river": "Mundheimselva", "date": "2019-05-16T19:00Z", "pct": 50}, {"river": "Uskedalselva", "date": "2019-05-22T12:00Z", "pct": 50}]},
      "mark": {"type": "circle", "size": 130, "stroke": "#7f7f7f", "strokeWidth": 0.8, "opacity": 1},
      "encoding": {"x": {"field": "date", "type": "temporal"}, "y": {"field": "pct", "type": "quantitative"},
       "fill": {"field": "river", "type": "nominal", "scale": {"domain": ["Osvassdraget", "Uskedalselva", "Mundheimselva"], "range": ["#7f9fd9", "#f4a87c", "#b5dba0"]}, "legend": null}}},
     {"data": {"values": [{"label": "N = 295"}]}, "mark": {"type": "rect", "fill": "#fce8c3"},
      "encoding": {"x": {"datum": {"year": 2019, "month": 4, "date": 10, "hours": 20, "utc": true}, "type": "temporal"}, "x2": {"datum": {"year": 2019, "month": 4, "date": 16, "hours": 14, "utc": true}}, "y": {"datum": 90.7, "type": "quantitative"}, "y2": {"datum": 97}}},
     {"data": {"values": [{"label": "N = 295"}]}, "mark": {"type": "text", "fontSize": 8, "color": "#333333"},
      "encoding": {"x": {"datum": {"year": 2019, "month": 4, "date": 13, "hours": 17, "utc": true}, "type": "temporal"}, "y": {"datum": 93.9, "type": "quantitative"}, "text": {"field": "label"}}}
    ]
   }
  ]
 },
 {
  "title": {"text": "2020", "orient": "left", "angle": 0, "align": "left", "baseline": "middle", "offset": 6, "fontSize": 20, "fontWeight": "bold", "color": "#1f7fd4", "anchor": "middle", "font": "Lato"},
  "spacing": 18,
  "resolve": {"scale": {"color": "independent", "fill": "independent"}, "legend": {"color": "independent", "fill": "independent"}},
  "hconcat": [
   {
    "width": 440, "height": 261,
    "view": {"fill": "white", "stroke": "#cbd5de"},
    "title": {"text": "Smoltutvandring laks 2020", "fontSize": 12.5, "fontWeight": "normal", "color": "#404040", "offset": -20, "anchor": "middle", "frame": "group", "font": "Lato"},
    "layer": [
     {"data": {"name": "l20"}, "mark": {"type": "line", "strokeWidth": 2.5, "strokeJoin": "round"},
      "encoding": {
       "x": {"field": "date", "type": "temporal", "scale": {"type": "utc", "domain": [{"year": 2020, "month": 4, "date": 15, "utc": true}, {"year": 2020, "month": 6, "date": 15, "hours": 14, "utc": true}], "range": [39, 423], "nice": false},
        "axis": {"title": null, "format": "%d.%m", "offset": -36, "labelOverlap": false, "tickCount": 30, "values": [{"year":2020,"month":4,"date":15,"utc":true},{"year":2020,"month":4,"date":20,"utc":true},{"year":2020,"month":4,"date":25,"utc":true},{"year":2020,"month":4,"date":30,"utc":true},{"year":2020,"month":5,"date":5,"utc":true},{"year":2020,"month":5,"date":10,"utc":true},{"year":2020,"month":5,"date":15,"utc":true},{"year":2020,"month":5,"date":20,"utc":true},{"year":2020,"month":5,"date":25,"utc":true},{"year":2020,"month":5,"date":30,"utc":true},{"year":2020,"month":6,"date":4,"utc":true},{"year":2020,"month":6,"date":9,"utc":true},{"year":2020,"month":6,"date":14,"utc":true}]}},
       "y": {"field": "pct", "type": "quantitative", "scale": {"domain": [0, 100], "range": [225, 20], "nice": false}, "axis": {"title": "Deteksjoner (% av total)", "offset": -39, "tickCount": 30, "values": [0,10,20,30,40,50,60,70,80,90,100]}},
       "color": {"field": "river", "type": "nominal", "scale": {"domain": ["Osvassdraget", "Uskedalselva", "Mundheimselva", "Granvinsvassdraget"], "range": ["#4472C4", "#ED7D31", "#70AD47", "#A5A5A5"]}, "legend": {"title": null, "orient": "none", "legendX": 288, "legendY": 149, "rowPadding": 0, "labelFontSize": 12}}
      }},
     {"data": {"values": [{"river": "Granvinsvassdraget", "date": "2020-05-01T19:00Z", "pct": 50.5}, {"river": "Mundheimselva", "date": "2020-05-07T05:00Z", "pct": 50}, {"river": "Osvassdraget", "date": "2020-05-09T07:00Z", "pct": 50}, {"river": "Uskedalselva", "date": "2020-05-16T17:00Z", "pct": 50}]},
      "mark": {"type": "circle", "size": 130, "stroke": "#7f7f7f", "strokeWidth": 0.8, "opacity": 1},
      "encoding": {"x": {"field": "date", "type": "temporal"}, "y": {"field": "pct", "type": "quantitative"},
       "fill": {"field": "river", "type": "nominal", "scale": {"domain": ["Osvassdraget", "Uskedalselva", "Mundheimselva", "Granvinsvassdraget"], "range": ["#7f9fd9", "#f4a87c", "#a6d08a", "#8e8e8e"]}, "legend": null}}},
     {"data": {"values": [{"label": "N = 636"}]}, "mark": {"type": "rect", "fill": "#fce8c3"},
      "encoding": {"x": {"datum": {"year": 2020, "month": 6, "date": 11, "hours": 10, "utc": true}, "type": "temporal"}, "x2": {"datum": {"year": 2020, "month": 6, "date": 17, "hours": 5, "utc": true}}, "y": {"datum": 101, "type": "quantitative"}, "y2": {"datum": 107.3}}},
     {"data": {"values": [{"label": "N = 636"}]}, "mark": {"type": "text", "fontSize": 8, "color": "#333333"},
      "encoding": {"x": {"datum": {"year": 2020, "month": 6, "date": 14, "hours": 7, "utc": true}, "type": "temporal"}, "y": {"datum": 104.1, "type": "quantitative"}, "text": {"field": "label"}}}
    ]
   },
   {
    "width": 427, "height": 261,
    "view": {"fill": "white", "stroke": "#cbd5de"},
    "title": {"text": "Smoltutvandring ørret - 2020", "fontSize": 12.5, "fontWeight": "normal", "color": "#404040", "offset": -20, "anchor": "middle", "frame": "group", "font": "Lato"},
    "layer": [
     {"data": {"name": "o20"}, "mark": {"type": "line", "strokeWidth": 2.5, "strokeJoin": "round"},
      "encoding": {
       "x": {"field": "date", "type": "temporal", "scale": {"type": "utc", "domain": [{"year": 2020, "month": 4, "date": 15, "utc": true}, {"year": 2020, "month": 6, "date": 15, "hours": 14, "utc": true}], "range": [41, 423], "nice": false},
        "axis": {"title": null, "format": "%d.%m", "offset": -36, "labelOverlap": false, "tickCount": 30, "values": [{"year":2020,"month":4,"date":15,"utc":true},{"year":2020,"month":4,"date":20,"utc":true},{"year":2020,"month":4,"date":25,"utc":true},{"year":2020,"month":4,"date":30,"utc":true},{"year":2020,"month":5,"date":5,"utc":true},{"year":2020,"month":5,"date":10,"utc":true},{"year":2020,"month":5,"date":15,"utc":true},{"year":2020,"month":5,"date":20,"utc":true},{"year":2020,"month":5,"date":25,"utc":true},{"year":2020,"month":5,"date":30,"utc":true},{"year":2020,"month":6,"date":4,"utc":true},{"year":2020,"month":6,"date":9,"utc":true},{"year":2020,"month":6,"date":14,"utc":true}]}},
       "y": {"field": "pct", "type": "quantitative", "scale": {"domain": [0, 100], "range": [225, 20], "nice": false}, "axis": {"title": "Deteksjoner (% av total)", "offset": -41, "tickCount": 30, "values": [0,10,20,30,40,50,60,70,80,90,100]}},
       "color": {"field": "river", "type": "nominal", "scale": {"domain": ["Osvassdraget", "Uskedalselva", "Mundheimselva", "Granvinsvassdraget"], "range": ["#4472C4", "#ED7D31", "#70AD47", "#A5A5A5"]}, "legend": {"title": null, "orient": "none", "legendX": 293, "legendY": 146, "rowPadding": 0, "labelFontSize": 12}}
      }},
     {"data": {"values": [{"river": "Osvassdraget", "date": "2020-05-08T19:00Z", "pct": 49.5}, {"river": "Uskedalselva", "date": "2020-05-19T05:00Z", "pct": 49.6}, {"river": "Mundheimselva", "date": "2020-05-22T05:00Z", "pct": 50}, {"river": "Granvinsvassdraget", "date": "2020-05-23T12:00Z", "pct": 50}]},
      "mark": {"type": "circle", "size": 130, "stroke": "#7f7f7f", "strokeWidth": 0.8, "opacity": 1},
      "encoding": {"x": {"field": "date", "type": "temporal"}, "y": {"field": "pct", "type": "quantitative"},
       "fill": {"field": "river", "type": "nominal", "scale": {"domain": ["Osvassdraget", "Uskedalselva", "Mundheimselva", "Granvinsvassdraget"], "range": ["#7f9fd9", "#f4a87c", "#a6d08a", "#8e8e8e"]}, "legend": null}}},
     {"data": {"values": [{"label": "N = 317"}]}, "mark": {"type": "rect", "fill": "#fce8c3"},
      "encoding": {"x": {"datum": {"year": 2020, "month": 6, "date": 9, "hours": 22, "utc": true}, "type": "temporal"}, "x2": {"datum": {"year": 2020, "month": 6, "date": 15, "hours": 14, "utc": true}}, "y": {"datum": 101, "type": "quantitative"}, "y2": {"datum": 108.3}}},
     {"data": {"values": [{"label": "N = 317"}]}, "mark": {"type": "text", "fontSize": 8, "color": "#333333"},
      "encoding": {"x": {"datum": {"year": 2020, "month": 6, "date": 12, "hours": 17, "utc": true}, "type": "temporal"}, "y": {"datum": 104.6, "type": "quantitative"}, "text": {"field": "label"}}}
    ]
   }
  ]
 }
]
}
